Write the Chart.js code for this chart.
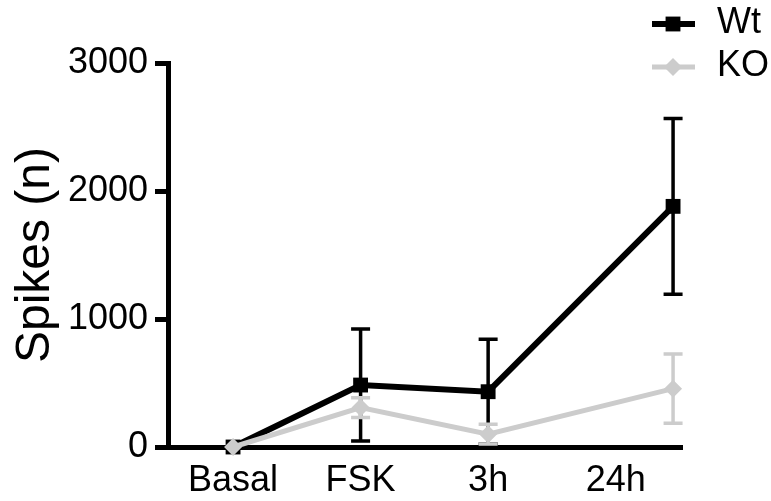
<!DOCTYPE html>
<html>
<head>
<meta charset="utf-8">
<script src="https://cdn.jsdelivr.net/npm/chart.js@4.4.0/dist/chart.umd.min.js"></script>
<style>
  html, body { margin: 0; padding: 0; background: #fff; }
  #wrap { width: 771px; height: 501px; }
</style>
</head>
<body>
<div id="wrap"><canvas id="chart" width="771" height="501"></canvas></div>
<script>
const categories = ['Basal', 'FSK', '3h', '24h'];
const xPositions = [1, 2, 3, 4.45];
const wtMean = [0, 484, 432, 1880];
const wtErr = [0, 437, 409, 686];
const koMean = [0, 308, 100, 456];
const koErr = [0, 77, 77, 271];
const yTicks = [0, 1000, 2000, 3000];

const FONT = "'Liberation Sans', Arial, sans-serif";
const WT_COLOR = '#000000';
const KO_COLOR = '#cccccc';

function toPoints(values) {
    return values.map((v, i) => ({ x: xPositions[i], y: v }));
}

const errorBars = {
    id: 'errorBars',
    beforeDatasetDraw(chart, args) {
        const ds = chart.data.datasets[args.index];
        if (!ds.errors) return;
        const { ctx, scales } = chart;
        ctx.save();
        ctx.strokeStyle = ds.borderColor;
        ctx.lineWidth = 3.5;
        ds.data.forEach((p, i) => {
            const e = ds.errors[i];
            if (!e) return;
            const x = scales.x.getPixelForValue(p.x);
            const top = scales.y.getPixelForValue(p.y + e);
            const bot = scales.y.getPixelForValue(p.y - e);
            ctx.beginPath();
            ctx.moveTo(x, top);
            ctx.lineTo(x, bot);
            ctx.moveTo(x - 9.5, top);
            ctx.lineTo(x + 9.5, top);
            ctx.moveTo(x - 9.5, bot);
            ctx.lineTo(x + 9.5, bot);
            ctx.stroke();
        });
        ctx.restore();
    }
};

const customLegend = {
    id: 'customLegend',
    afterDraw(chart) {
        const { ctx } = chart;
        const rows = [
            { ds: chart.data.datasets[0], y: 24, base: 33 },
            { ds: chart.data.datasets[1], y: 67, base: 76 }
        ];
        ctx.save();
        rows.forEach(r => {
            ctx.strokeStyle = r.ds.borderColor;
            ctx.lineWidth = r.ds.borderWidth;
            ctx.beginPath();
            ctx.moveTo(652, r.y);
            ctx.lineTo(695, r.y);
            ctx.stroke();
            ctx.fillStyle = r.ds.pointBackgroundColor;
            Chart.helpers.drawPoint(ctx, {
                pointStyle: r.ds.pointStyle,
                radius: r.ds.pointRadius,
                rotation: 0,
                borderWidth: 0
            }, 673, r.y);
            ctx.fillStyle = '#000';
            ctx.font = '36px ' + FONT;
            ctx.textBaseline = 'alphabetic';
            ctx.textAlign = 'left';
            ctx.fillText(r.ds.label, 717, r.base);
        });
        ctx.restore();
    }
};

new Chart(document.getElementById('chart').getContext('2d'), {
    type: 'line',
    data: {
        datasets: [
            {
                label: 'Wt',
                data: toPoints(wtMean),
                errors: wtErr,
                borderColor: WT_COLOR,
                backgroundColor: WT_COLOR,
                pointBackgroundColor: WT_COLOR,
                pointBorderWidth: 0,
                borderWidth: 6,
                pointStyle: 'rect',
                pointRadius: 10.5,
                order: 2,
                clip: false
            },
            {
                label: 'KO',
                data: toPoints(koMean),
                errors: koErr,
                borderColor: KO_COLOR,
                backgroundColor: KO_COLOR,
                pointBackgroundColor: KO_COLOR,
                pointBorderWidth: 0,
                borderWidth: 5,
                pointStyle: 'rectRot',
                pointRadius: 9,
                order: 1,
                clip: false
            }
        ]
    },
    options: {
        responsive: false,
        animation: false,
        events: [],
        layout: { padding: { top: 63, right: 89, left: 0, bottom: 0 } },
        plugins: {
            legend: { display: false },
            tooltip: { enabled: false }
        },
        scales: {
            x: {
                type: 'linear',
                min: 0.49,
                max: 4.52,
                afterFit(scale) { scale.height = 54; },
                afterBuildTicks(scale) {
                    scale.ticks = categories.map((c, i) => ({ value: i + 1 }));
                },
                grid: { display: false },
                border: { display: true, color: '#000', width: 5 },
                ticks: {
                    color: '#000',
                    padding: 4,
                    maxRotation: 0,
                    autoSkip: false,
                    font: { family: FONT, size: 36 },
                    callback: (v) => categories[Math.round(v) - 1]
                }
            },
            y: {
                min: 0,
                max: 3000,
                afterFit(scale) { scale.width = 168; },
                afterBuildTicks(scale) {
                    scale.ticks = yTicks.map(v => ({ value: v }));
                },
                grid: {
                    display: true,
                    drawOnChartArea: false,
                    drawTicks: true,
                    tickLength: 13,
                    lineWidth: 5,
                    color: '#000'
                },
                border: { display: true, color: '#000', width: 5 },
                ticks: {
                    color: '#000',
                    padding: 7,
                    font: { family: FONT, size: 36 },
                    callback: (v) => String(v)
                },
                title: {
                    display: true,
                    text: 'Spikes (n)',
                    color: '#000',
                    padding: { top: 7, bottom: 0 },
                    font: { family: FONT, size: 48 }
                }
            }
        }
    },
    plugins: [errorBars, customLegend]
});
</script>
</body>
</html>
